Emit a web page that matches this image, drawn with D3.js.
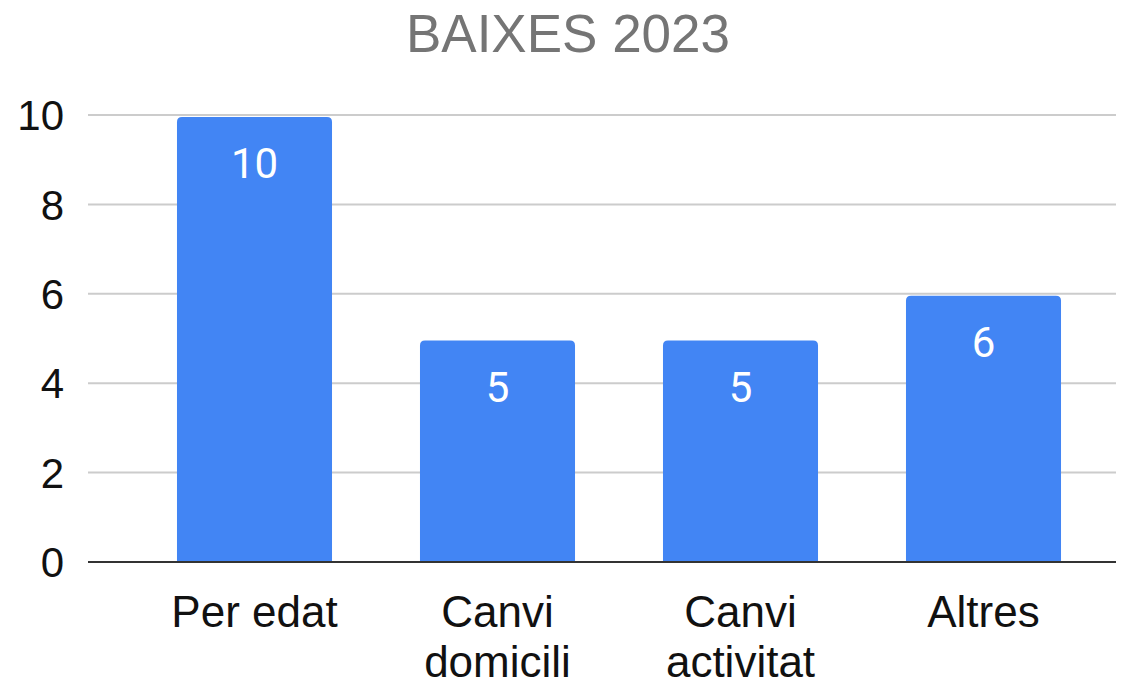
<!DOCTYPE html>
<html><head><meta charset="utf-8">
<script src="https://cdn.jsdelivr.net/npm/d3@7"></script>
<style>html,body{margin:0;padding:0;background:#fff;}svg{display:block;}</style>
</head><body>
<script>
const title = "BAIXES 2023";
const categories = [["Per edat"], ["Canvi", "domicili"], ["Canvi", "activitat"], ["Altres"]];
const values = [10, 5, 5, 6];
const yTicks = [0, 2, 4, 6, 8, 10];

const W = 1130, H = 688;
const svg = d3.select("body").append("svg").attr("width", W).attr("height", H);

const x = d3.scaleBand().domain(d3.range(categories.length)).range([133, 1105]).paddingInner(0.362).paddingOuter(0.181);
const y = d3.scaleLinear().domain([0, 10]).range([562, 115]);

svg.append("text").attr("x", 568).attr("y", 52).attr("text-anchor", "middle")
  .attr("font-family", "Liberation Sans, Arial, sans-serif").attr("font-size", 53).attr("fill", "#757575").text(title);

// gridlines
svg.append("g").selectAll("line").data(yTicks.filter(d => d !== 0)).join("line")
  .attr("x1", 88).attr("x2", 1116).attr("y1", d => y(d)).attr("y2", d => y(d))
  .attr("stroke", "#cccccc").attr("stroke-width", 2);

// y axis labels
svg.append("g").selectAll("text").data(yTicks).join("text")
  .attr("x", 64).attr("y", d => y(d)).attr("dy", "0.36em").attr("text-anchor", "end")
  .attr("font-family", "Liberation Sans, Arial, sans-serif").attr("font-size", 42).attr("fill", "#111")
  .text(d => d);

// bars with rounded top
const r = 5;
svg.append("g").selectAll("path").data(values).join("path")
  .attr("fill", "#4285f4")
  .attr("d", (d, i) => {
    const x0 = x(i), w = x.bandwidth(), y0 = y(d) + 2, yb = y(0);
    return `M${x0},${yb} V${y0 + r} Q${x0},${y0} ${x0 + r},${y0} H${x0 + w - r} Q${x0 + w},${y0} ${x0 + w},${y0 + r} V${yb} Z`;
  });

// bar labels
svg.append("g").selectAll("text").data(values).join("text")
  .attr("x", (d, i) => x(i) + x.bandwidth() / 2).attr("y", d => y(d) + 63)
  .attr("text-anchor", "middle").attr("font-family", "Roboto, sans-serif").attr("font-size", 42).attr("fill", "#fff")
  .text(d => d);

// baseline
svg.append("line").attr("x1", 88).attr("x2", 1116).attr("y1", y(0)).attr("y2", y(0))
  .attr("stroke", "#333").attr("stroke-width", 2);

// category labels
const cat = svg.append("g").selectAll("text").data(categories).join("text")
  .attr("x", (d, i) => x(i) + x.bandwidth() / 2).attr("y", 627)
  .attr("text-anchor", "middle").attr("font-family", "Liberation Sans, Arial, sans-serif").attr("font-size", 44).attr("fill", "#111");
cat.each(function(d) {
  const t = d3.select(this);
  d.forEach((line, k) => {
    t.append("tspan").attr("x", t.attr("x")).attr("dy", k === 0 ? 0 : 50).text(line);
  });
});
</script>
</body></html>
